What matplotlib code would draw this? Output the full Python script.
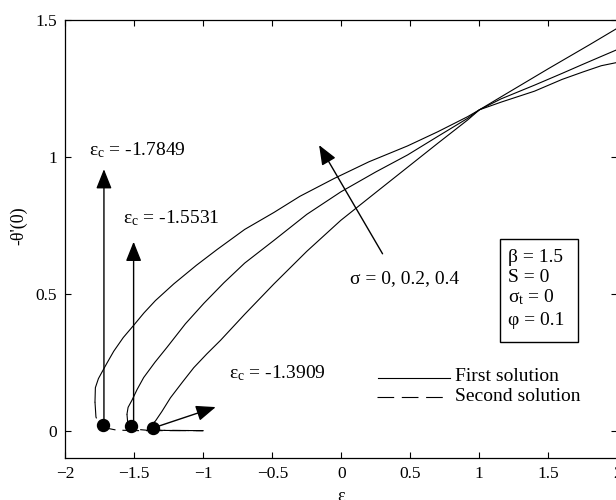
import matplotlib
matplotlib.use("Agg")
import matplotlib.pyplot as plt
from matplotlib.patches import FancyArrowPatch, Rectangle

plt.rcParams["font.family"] = ["Liberation Serif", "DejaVu Serif"]
plt.rcParams["mathtext.fontset"] = "custom"
plt.rcParams["mathtext.rm"] = "Liberation Serif"
plt.rcParams["mathtext.it"] = "Liberation Serif:italic"
plt.rcParams["lines.scale_dashes"] = False

# first solution branches (upper), sigma = 0, 0.2, 0.4
eps_a = [-1.7849, -1.782, -1.760, -1.734, -1.700, -1.649, -1.580, -1.504, -1.430,
         -1.347, -1.214, -1.050, -0.899, -0.700, -0.488, -0.300, -0.052, 0.200,
         0.480, 0.700, 0.916, 1.001, 1.158, 1.400, 1.600, 1.750, 1.884, 2.0]
theta_a = [0.105, 0.157, 0.190, 0.214, 0.245, 0.290, 0.340, 0.385, 0.430,
           0.475, 0.536, 0.604, 0.662, 0.735, 0.797, 0.856, 0.921, 0.982,
           1.040, 1.092, 1.147, 1.172, 1.200, 1.240, 1.283, 1.310, 1.333, 1.345]

eps_b = [-1.5531, -1.545, -1.516, -1.480, -1.432, -1.350, -1.262, -1.130, -0.996,
         -0.851, -0.700, -0.488, -0.250, -0.004, 0.250, 0.480, 0.700, 0.916,
         1.001, 1.158, 1.400, 1.600, 1.750, 1.884, 2.0]
theta_b = [0.060, 0.085, 0.112, 0.150, 0.194, 0.250, 0.305, 0.390, 0.465,
           0.540, 0.612, 0.695, 0.790, 0.872, 0.945, 1.007, 1.075, 1.141,
           1.172, 1.212, 1.262, 1.305, 1.338, 1.367, 1.392]

eps_c = [-1.3909, -1.380, -1.347, -1.300, -1.238, -1.150, -1.069, -0.975, -0.875,
         -0.700, -0.488, -0.250, -0.004, 0.250, 0.480, 0.700, 0.916, 1.001,
         1.200, 1.500, 1.800, 2.0]
theta_c = [0.014, 0.020, 0.035, 0.070, 0.120, 0.178, 0.230, 0.280, 0.330,
           0.425, 0.536, 0.655, 0.768, 0.870, 0.962, 1.050, 1.135, 1.172,
           1.232, 1.322, 1.410, 1.470]

# second solution branches (lower)
eps_a2 = [-1.7849, -1.778, -1.760, -1.730, -1.690, -1.630, -1.500, -1.0]
theta_a2 = [0.105, 0.050, 0.028, 0.018, 0.008, 0.002, 0.0, 0.0]
eps_b2 = [-1.5531, -1.548, -1.528, -1.490, -1.400, -1.0]
theta_b2 = [0.060, 0.030, 0.015, 0.005, 0.001, 0.0]
eps_c2 = [-1.3909, -1.363, -1.300, -1.0]
theta_c2 = [0.014, 0.006, 0.001, 0.0]

# critical-point markers and their labels
dot_eps = [-1.730, -1.525, -1.362]
dot_theta = [0.020, 0.016, 0.009]
crit_labels = ["-1.7849", "-1.5531", "-1.3909"]

x_ticks = [-2, -1.5, -1, -0.5, 0, 0.5, 1, 1.5, 2]
y_ticks = [0, 0.5, 1, 1.5]

fig = plt.figure(figsize=(6.16, 5.0), dpi=100)
ax = fig.add_axes([65.3 / 616, 42 / 500, 552 / 616, 438 / 500])

lw = 0.8
for e, t in [(eps_a, theta_a), (eps_b, theta_b), (eps_c, theta_c)]:
    ax.plot(e, t, color="black", lw=lw)
for e, t in [(eps_a2, theta_a2), (eps_b2, theta_b2), (eps_c2, theta_c2)]:
    ax.plot(e, t, color="black", lw=lw, dashes=[12, 5])

ax.plot(dot_eps, dot_theta, "o", color="black", ms=8.6, zorder=5)


def arrow(x0, y0, x1, y1):
    ax.add_patch(FancyArrowPatch((x0, y0), (x1, y1), arrowstyle="-|>,head_length=0.75,head_width=0.3",
                                 mutation_scale=16, color="black", lw=1.0, shrinkA=0, shrinkB=0,
                                 zorder=4))


arrow(-1.72, 0.02, -1.72, 0.955)
arrow(-1.505, 0.02, -1.505, 0.69)
arrow(-1.35, 0.012, -0.91, 0.086)
arrow(0.299, 0.646, -0.161, 1.043)

fs = 14
label_pos = [(-1.828, 1.005), (-1.582, 0.757), (-0.814, 0.191)]
for (lx, ly), val in zip(label_pos, crit_labels):
    ax.text(lx, ly, r"$\mathregular{ε_c}$ = " + val, fontsize=fs, va="baseline", ha="left")

ax.text(0.062, 0.540, "σ = 0, 0.2, 0.4", fontsize=fs, va="baseline", ha="left")

# parameter box
ax.add_patch(Rectangle((1.151, 0.325), 0.566, 0.374, fill=False, ec="black", lw=1.0))
box_lines = [("β = 1.5", 0.615), ("S = 0", 0.542), (r"$\mathregular{σ_t}$ = 0", 0.469),
             ("φ = 0.1", 0.386)]
for s, yy in box_lines:
    ax.text(1.208, yy, s, fontsize=fs, va="baseline", ha="left")

# line-style key
ax.plot([0.268, 0.788], [0.194, 0.194], color="black", lw=lw)
ax.plot([0.257, 0.766], [0.122, 0.122], color="black", lw=lw, dashes=[12, 5.5])
ax.text(0.824, 0.182, "First solution", fontsize=fs, va="baseline", ha="left")
ax.text(0.824, 0.109, "Second solution", fontsize=fs, va="baseline", ha="left")

ax.set_xlim(-2, 2)
ax.set_ylim(-0.1, 1.5)
ax.set_xticks(x_ticks)
ax.set_xticklabels(["\u22122", "\u22121.5", "\u22121", "\u22120.5", "0", "0.5", "1", "1.5", "2"])
ax.set_yticks(y_ticks)
ax.set_yticklabels(["0", "0.5", "1", "1.5"])
ax.tick_params(direction="in", length=4.5, width=0.8, top=True, right=True,
               labelsize=12.5, pad=6)
for sp in ax.spines.values():
    sp.set_linewidth(0.9)

ax.set_xlabel("ε", fontsize=13)
ax.xaxis.set_label_coords(0.5, -0.068)
ax.set_ylabel("-θ'(0)", fontsize=13)
ax.yaxis.set_label_coords(-0.068, 0.53)

fig.savefig("out.png", dpi=100)
